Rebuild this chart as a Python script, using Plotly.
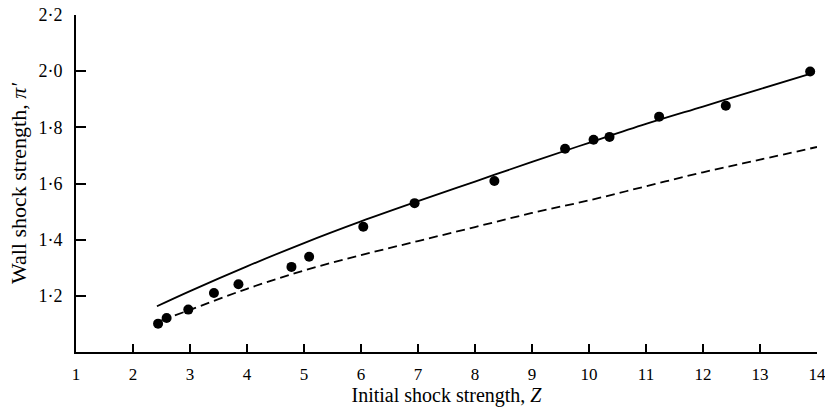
import plotly.graph_objects as go

# Experimental points
z_pts = [2.44, 2.59, 2.97, 3.42, 3.85, 4.78, 5.09, 6.04, 6.94, 8.34, 9.58, 10.08, 10.36, 11.23, 12.40, 13.88]
pi_pts = [1.101, 1.121, 1.151, 1.210, 1.241, 1.303, 1.339, 1.446, 1.530, 1.609, 1.724, 1.756, 1.766, 1.838, 1.877, 1.999]

# Solid theory curve
z_solid = [2.42, 3.0, 4.0, 5.0, 6.0, 7.0, 8.0, 9.0, 10.0, 11.0, 12.0, 13.0, 13.95]
pi_solid = [1.163, 1.217, 1.305, 1.388, 1.465, 1.537, 1.607, 1.677, 1.745, 1.812, 1.874, 1.936, 1.995]

# Dashed theory curve
z_dash = [2.5, 3.0, 4.0, 5.0, 6.0, 7.0, 8.0, 9.0, 10.0, 11.0, 12.0, 13.0, 14.0]
pi_dash = [1.113, 1.15, 1.225, 1.29, 1.345, 1.395, 1.445, 1.495, 1.54, 1.59, 1.64, 1.685, 1.73]

x_ticks = list(range(1, 15))
x_labels = [str(v) for v in x_ticks]
y_ticks = [1.2, 1.4, 1.6, 1.8, 2.0, 2.2]
y_labels = ["1·2", "1·4", "1·6", "1·8", "2·0", "2·2"]

FONT = "Liberation Serif, Times New Roman, serif"

fig = go.Figure()
fig.add_trace(go.Scatter(x=z_solid, y=pi_solid, mode="lines", line_shape="spline",
                         line=dict(color="black", width=1.8), showlegend=False))
fig.add_trace(go.Scatter(x=z_dash, y=pi_dash, mode="lines", line_shape="spline",
                         line=dict(color="black", width=1.8, dash="9px,5px"), showlegend=False))
fig.add_trace(go.Scatter(x=z_pts, y=pi_pts, mode="markers",
                         marker=dict(color="black", size=10), showlegend=False))

fig.update_layout(
    width=825, height=408,
    margin=dict(l=76, r=8, t=15, b=56, autoexpand=False),
    paper_bgcolor="white", plot_bgcolor="white",
    font=dict(family=FONT, size=17, color="black"),
    xaxis=dict(range=[1, 14], tickvals=x_ticks, ticktext=x_labels, automargin=False,
               showgrid=False, zeroline=False, showline=True, linecolor="black", linewidth=2,
               ticks="inside", ticklen=8, tickwidth=2, tickcolor="black",
               ticklabelstandoff=6, ticklabeloverflow="allow",
               tickfont=dict(family=FONT, size=17),
               title=dict(text="Initial shock strength, <i>Z</i>", standoff=5,
                          font=dict(family=FONT, size=20))),
    yaxis=dict(range=[1.0, 2.2], tickvals=y_ticks, ticktext=y_labels, automargin=False,
               showgrid=False, zeroline=False, showline=True, linecolor="black", linewidth=2,
               ticks="inside", ticklen=10, tickwidth=2, tickcolor="black",
               ticklabelstandoff=8, ticklabeloverflow="allow",
               tickfont=dict(family=FONT, size=18),
               title=dict(text="Wall shock strength, <i>π′</i>", standoff=6,
                          font=dict(family=FONT, size=22))),
)

fig.write_html("out.html", config={"displayModeBar": False},
               post_script="document.body.style.margin='0';document.body.style.padding='0';")
